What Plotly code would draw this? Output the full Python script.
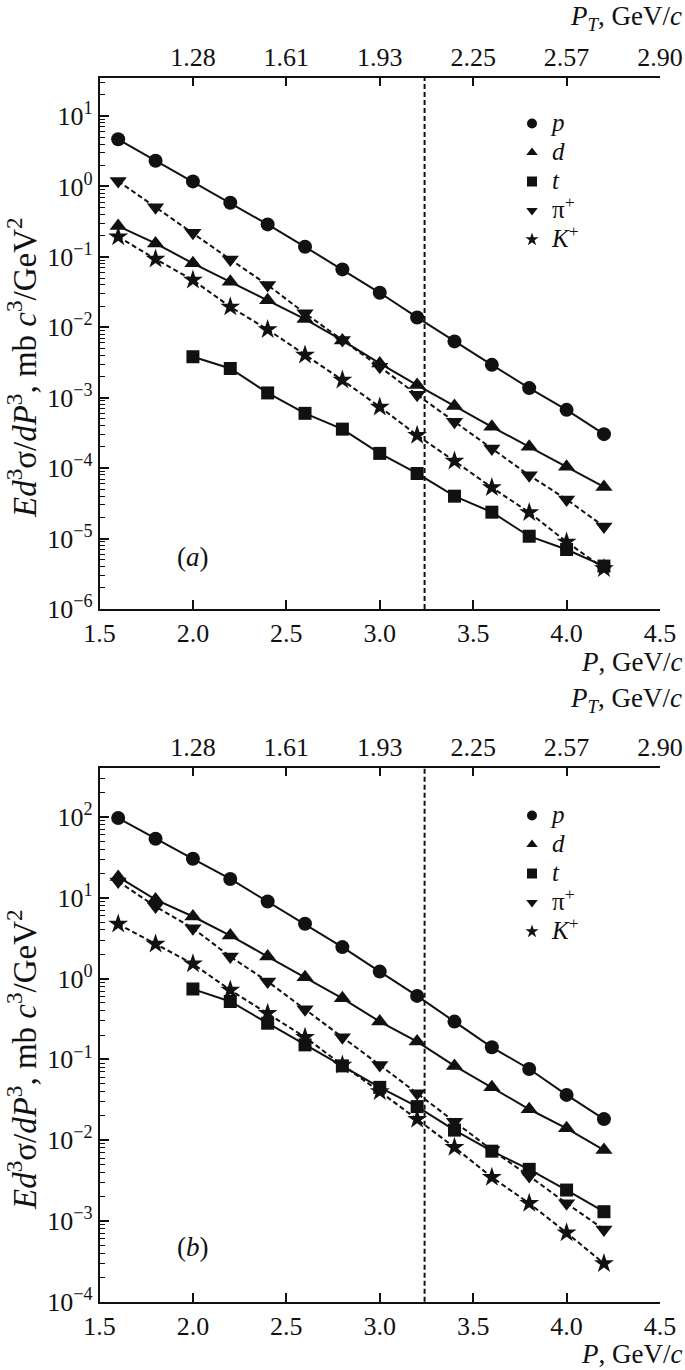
import plotly.graph_objects as go

# ---------------- data ----------------
P = [1.6, 1.8, 2.0, 2.2, 2.4, 2.6, 2.8, 3.0, 3.2, 3.4, 3.6, 3.8, 4.0, 4.2]
P_t = [2.0, 2.2, 2.4, 2.6, 2.8, 3.0, 3.2, 3.4, 3.6, 3.8, 4.0, 4.2]

# panel (a)
a_p = [4.67, 2.32, 1.18, 0.588, 0.289, 0.139, 0.0664, 0.0309, 0.0138, 0.0063, 0.00293, 0.00137, 0.000673, 0.000304]
a_d = [0.274, 0.155, 0.081, 0.0443, 0.0243, 0.0131, 0.0065, 0.00307, 0.00151, 0.00076, 0.000386, 0.000201, 0.000105, 5.42e-5]
a_t = [0.00381, 0.0026, 0.00117, 0.0006, 0.000358, 0.000162, 8.4e-5, 4.0e-5, 2.37e-5, 1.08e-5, 7.0e-6, 4.07e-6]
a_pi = [1.19, 0.505, 0.22, 0.092, 0.0398, 0.0158, 0.0066, 0.00275, 0.0011, 0.000457, 0.00019, 7.9e-5, 3.6e-5, 1.48e-5]
a_k = [0.193, 0.093, 0.0468, 0.0195, 0.0093, 0.00403, 0.00178, 0.00074, 0.000293, 0.000126, 5.3e-5, 2.35e-5, 8.97e-6, 3.76e-6]

# panel (b)
b_p = [97.0, 53.8, 30.4, 17.1, 9.0, 4.76, 2.45, 1.22, 0.61, 0.293, 0.141, 0.076, 0.0363, 0.0182]
b_d = [18.1, 9.5, 5.86, 3.41, 1.87, 1.04, 0.57, 0.293, 0.166, 0.083, 0.045, 0.0241, 0.014, 0.00754]
b_t = [0.74, 0.52, 0.28, 0.151, 0.083, 0.045, 0.026, 0.0133, 0.0073, 0.00435, 0.00241, 0.0013]
b_pi = [15.9, 7.8, 4.2, 1.87, 0.92, 0.418, 0.188, 0.085, 0.038, 0.0169, 0.00754, 0.00359, 0.00165, 0.000785]
b_k = [4.72, 2.67, 1.52, 0.72, 0.372, 0.188, 0.085, 0.04, 0.0181, 0.00815, 0.00347, 0.00165, 0.000713, 0.000297]

x_ticks = [1.5, 2.0, 2.5, 3.0, 3.5, 4.0, 4.5]
x_ticktext = ["1.5", "2.0", "2.5", "3.0", "3.5", "4.0", "4.5"]
top_tickvals = [2.0, 2.5, 3.0, 3.5, 4.0, 4.5]
top_ticktext = ["1.28", "1.61", "1.93", "2.25", "2.57", "2.90"]
cut_P = 3.24

a_exps = [-6, -5, -4, -3, -2, -1, 0, 1]
b_exps = [-4, -3, -2, -1, 0, 1, 2]

names = ["<i>p</i>", "<i>d</i>", "<i>t</i>", "π<sup>+</sup>", "<i>K</i><sup>+</sup>"]
symbols = ["circle", "triangle-up", "square", "triangle-down", "star"]
dashes = ["solid", "solid", "solid", "dash", "dash"]
msizes = [14, 15, 13, 15, 15]

FONT = "Liberation Serif"
BLACK = "#111111"

fig = go.Figure()

def add_panel(xs_list, ys_list, xa, ya, legend):
    for i in range(5):
        fig.add_trace(go.Scatter(
            x=xs_list[i], y=ys_list[i], mode="lines+markers",
            xaxis=xa, yaxis=ya, showlegend=False,
            line=dict(color=BLACK, width=2, dash="solid" if dashes[i] == "solid" else "5px,3px"),
            marker=dict(symbol=symbols[i], size=msizes[i], color=BLACK),
        ))
    for i in range(5):
        fig.add_trace(go.Scatter(
            x=[None], y=[None], mode="markers",
            name="<span style='font-size:25px'>%s</span>" % names[i],
            xaxis=xa, yaxis=ya, legend=legend, showlegend=True,
            marker=dict(symbol=symbols[i], size=10, color=BLACK),
        ))

add_panel([P, P, P_t, P, P], [a_p, a_d, a_t, a_pi, a_k], "x", "y", "legend")
add_panel([P, P, P_t, P, P], [b_p, b_d, b_t, b_pi, b_k], "x3", "y2", "legend2")

W, H = 685, 1370
xdom = [99.5 / W, 660 / W]
ya_dom = [1 - 609 / H, 1 - 77.7 / H]
yb_dom = [1 - 1301.7 / H, 1 - 767.7 / H]

tickfont = dict(family=FONT, size=26, color=BLACK)

def xaxis_bottom(anchor):
    return dict(domain=xdom, range=[1.5, 4.5], anchor=anchor, tickvals=x_ticks, ticktext=x_ticktext,
                ticks="inside", ticklen=9, tickwidth=1.5, tickcolor=BLACK, showline=True,
                linecolor=BLACK, linewidth=1.5, showgrid=False, zeroline=False, tickfont=tickfont,
                automargin=False)

def xaxis_top(over, anchor):
    return dict(domain=xdom, range=[1.5, 4.5], overlaying=over, anchor=anchor, side="top",
                tickvals=top_tickvals, ticktext=top_ticktext, ticks="inside", ticklen=9,
                tickwidth=1.5, tickcolor=BLACK, showline=True, linecolor=BLACK, linewidth=1.5,
                showgrid=False, zeroline=False, tickfont=tickfont, automargin=False)

def yaxis(dom, anchor, rng, exps):
    return dict(domain=dom, anchor=anchor, type="log", range=rng,
                tickvals=[10.0 ** e for e in exps],
                ticktext=["10<sup>%s</sup>" % (str(e).replace("-", "−")) for e in exps],
                ticks="inside", ticklen=10, tickwidth=1.5, tickcolor=BLACK, showline=True,
                linecolor=BLACK, linewidth=1.5, showgrid=False, zeroline=False, tickfont=tickfont,
                automargin=False,
                minor=dict(ticks="inside", ticklen=6, tickwidth=1.2, tickcolor=BLACK, dtick="D1", showgrid=False))

leg_font = dict(family=FONT, size=20, color=BLACK)
fig.update_layout(
    template="none",
    width=W, height=H, margin=dict(l=0, r=0, t=0, b=0, autoexpand=False),
    paper_bgcolor="white", plot_bgcolor="white",
    font=dict(family=FONT, color=BLACK),
    xaxis=xaxis_bottom("y"),
    xaxis2=xaxis_top("x", "y"),
    xaxis3=xaxis_bottom("y2"),
    xaxis4=xaxis_top("x3", "y2"),
    yaxis=yaxis(ya_dom, "x", [-6, 1.544], a_exps),
    yaxis2=yaxis(yb_dom, "x3", [-4, 2.61], b_exps),
    legend=dict(x=512 / W, y=1 - 104 / H, xanchor="left", yanchor="top",
                font=leg_font, bgcolor="rgba(0,0,0,0)", itemwidth=30, tracegroupgap=0),
    legend2=dict(x=512 / W, y=1 - 796 / H, xanchor="left", yanchor="top",
                 font=leg_font, bgcolor="rgba(0,0,0,0)", itemwidth=30, tracegroupgap=0),
    showlegend=True,
)

# dummy traces so top axes are drawn
fig.add_trace(go.Scatter(x=[None], y=[None], xaxis="x2", yaxis="y", showlegend=False, hoverinfo="skip"))
fig.add_trace(go.Scatter(x=[None], y=[None], xaxis="x4", yaxis="y2", showlegend=False, hoverinfo="skip"))

for xr, yr in (("x", "y domain"), ("x3", "y2 domain")):
    fig.add_shape(type="line", xref=xr, yref=yr, x0=cut_P, x1=cut_P, y0=0, y1=1,
                  line=dict(color=BLACK, width=2, dash="5px,3px"))

ann_font = dict(family=FONT, size=27, color=BLACK)
ylab_font = dict(family=FONT, size=33, color=BLACK)
ylabel = "<i>Ed</i><sup>3</sup>σ/<i>dP</i><sup>3</sup>, mb <i>c</i><sup>3</sup>/GeV<sup>2</sup>"
for ymid, ybot, ytop in ((368, 662, 18), (1060, 1354, 700)):
    fig.add_annotation(text=ylabel, xref="paper", yref="paper", x=22 / W, y=1 - ymid / H,
                       textangle=-90, showarrow=False, font=ylab_font, xanchor="center", yanchor="middle")
    fig.add_annotation(text="<i>P</i>, GeV/<i>c</i>", xref="paper", yref="paper", x=684 / W, y=1 - ybot / H,
                       showarrow=False, font=ann_font, xanchor="right", yanchor="middle")
    fig.add_annotation(text="<i>P<sub>T</sub></i>, GeV/<i>c</i>", xref="paper", yref="paper", x=684 / W,
                       y=1 - ytop / H, showarrow=False, font=ann_font, xanchor="right", yanchor="middle")

fig.add_annotation(text="(<i>a</i>)", xref="paper", yref="paper", x=193 / W, y=1 - 557 / H,
                   showarrow=False, font=ann_font, xanchor="center", yanchor="middle")
fig.add_annotation(text="(<i>b</i>)", xref="paper", yref="paper", x=193 / W, y=1 - 1247 / H,
                   showarrow=False, font=ann_font, xanchor="center", yanchor="middle")

fig.write_html("out.html", config={"displayModeBar": False},
               post_script="document.body.style.margin='0px';")
